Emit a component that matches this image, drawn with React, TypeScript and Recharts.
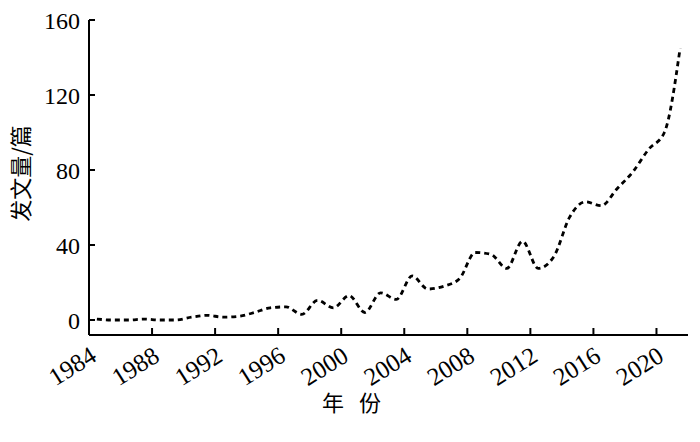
import React from 'react';
import { LineChart, Line, XAxis, YAxis, Label } from 'recharts';

// 年份与发文量（篇）
const years = [
  1984, 1985, 1986, 1987, 1988, 1989, 1990, 1991, 1992, 1993,
  1994, 1995, 1996, 1997, 1998, 1999, 2000, 2001, 2002, 2003,
  2004, 2005, 2006, 2007, 2008, 2009, 2010, 2011, 2012, 2013,
  2014, 2015, 2016, 2017, 2018, 2019, 2020, 2021,
];
const papers = [
  0.5, 0, 0, 0.5, 0, 0, 1.5, 2.5, 1.5, 2,
  4, 6.5, 7, 3, 10.5, 6.5, 13, 4, 14.5, 11,
  23.5, 16.5, 18, 22, 36, 35, 27.5, 42, 27.5, 34,
  55, 63, 61, 70, 79, 91, 100, 145,
];
const xTicks = [1984, 1988, 1992, 1996, 2000, 2004, 2008, 2012, 2016, 2020];
const yTicks = [0, 40, 80, 120, 160];

// each year is drawn in the middle of its slot
const data = years.map((y, i) => ({ pos: y + 0.5, value: papers[i] }));

const SERIF = '"Liberation Serif", "DejaVu Serif", serif';
const CJK = '"Noto Sans CJK SC", "Noto Sans", sans-serif';

const XTick = (props: any) => {
  const { x, y, payload } = props;
  const tx = x + 9;
  const ty = y + 21;
  return (
    <g>
      <line x1={x} x2={x} y1={y - 4} y2={y - 11} stroke="#000" strokeWidth={2} />
      <text
        x={tx}
        y={ty}
        textAnchor="end"
        fontSize={25}
        fontFamily={SERIF}
        fill="#000"
        transform={`rotate(-32, ${tx}, ${ty})`}
      >
        {payload.value}
      </text>
    </g>
  );
};

const YTick = (props: any) => {
  const { x, y, payload } = props;
  return (
    <g>
      <line x1={x + 9} x2={x + 15} y1={y} y2={y} stroke="#000" strokeWidth={2} />
      <text x={x} y={y} dy={9} textAnchor="end" fontSize={24} fontFamily={SERIF} fill="#000">
        {payload.value}
      </text>
    </g>
  );
};

export default function App() {
  return (
    <div style={{ position: 'absolute', left: 0, top: 0, width: 700, height: 442, background: '#fff' }}>
      <LineChart width={700} height={442} data={data} margin={{ top: 20, right: 12, bottom: 47, left: 29 }}>
        <XAxis
          dataKey="pos"
          type="number"
          domain={[1984, 2022]}
          ticks={xTicks}
          interval={0}
          height={60}
          axisLine={{ stroke: '#000', strokeWidth: 2 }}
          tickLine={false}
          tick={<XTick />}
          tickSize={0}
          tickMargin={4}
        >
          <Label
            value={'年\u2002份'}
            position="bottom"
            offset={0}
            dx={-36}
            style={{ fontSize: 22, fontFamily: CJK, fill: '#000', letterSpacing: 2 }}
          />
        </XAxis>
        <YAxis
          type="number"
          domain={[-8, 160]}
          ticks={yTicks}
          interval={0}
          width={60}
          axisLine={{ stroke: '#000', strokeWidth: 2 }}
          tickLine={false}
          tick={<YTick />}
          tickSize={0}
          tickMargin={9}
        >
          <Label
            value="发文量/篇"
            angle={-90}
            position="insideLeft"
            offset={-8}
            dy={-4}
            style={{ fontSize: 22, fontFamily: CJK, fill: '#000', textAnchor: 'middle' }}
          />
        </YAxis>
        <Line
          type="monotone"
          dataKey="value"
          stroke="#000"
          strokeWidth={2.8}
          strokeDasharray="5 4"
          dot={false}
          isAnimationActive={false}
        />
      </LineChart>
    </div>
  );
}
